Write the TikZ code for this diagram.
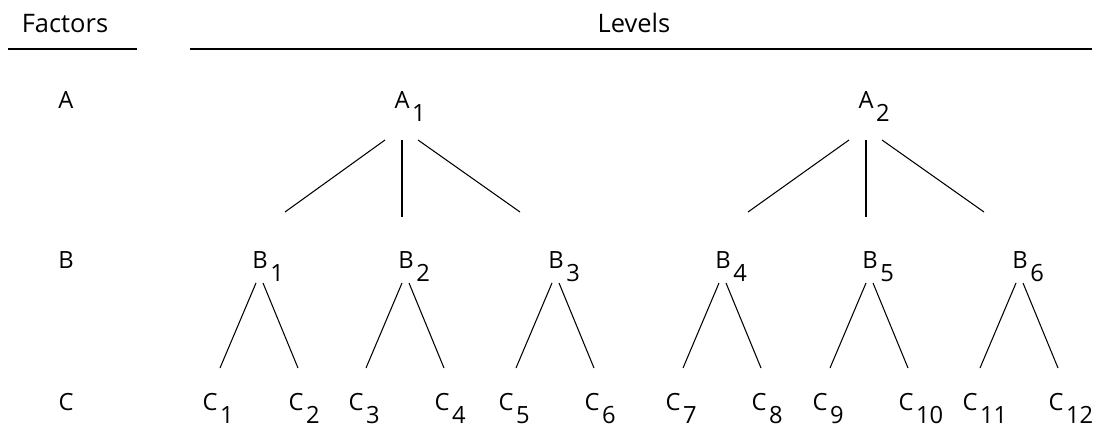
\documentclass[tikz,border=0pt]{standalone}
\usepackage{fontspec}
\setmainfont{Open Sans}
\usetikzlibrary{calc}

\newcommand{\lvl}[2]{#1\rlap{\kern1.5pt\raisebox{-7.5pt}{#2}}}

\begin{document}
\begin{tikzpicture}[x=0.02cm, y=-0.02cm,
    lvl/.style={anchor=base, inner sep=0pt, font=\fontsize{13.5}{16}\selectfont},
    head/.style={anchor=base, inner sep=0pt, font=\fontsize{14.5}{17}\selectfont},
    branch/.style={line width=0.6pt}]

    \useasboundingbox (0,0) rectangle (1101,436);

    % Headings
    \node[head] (fac) at (65,32) {Factors};
    \node[head] (lev) at (634,32) {Levels};
    \draw[branch] (8,49) -- (137,49);
    \draw[branch] (190,49) -- (1092,49);

    % Factor names
    \node[lvl] (fA) at (66,108) {A};
    \node[lvl] (fB) at (66,268) {B};
    \node[lvl] (fC) at (66,410) {C};

    % Levels of A
    \node[lvl] (A1) at (402,108) {\lvl{A}{1}};
    \node[lvl] (A2) at (866,108) {\lvl{A}{2}};

    % Levels of B, each with two levels of C
    \foreach \n/\x in {1/260, 2/406, 3/556, 4/723, 5/870, 6/1020} {
        \pgfmathtruncatemacro{\lft}{2*\n-1}
        \pgfmathtruncatemacro{\rgt}{2*\n}
        \node[lvl] (B\n) at (\x,268) {\lvl{B}{\n}};
        \node[lvl] (C\lft) at (\x-50,410) {\lvl{C}{\lft}};
        \node[lvl] (C\rgt) at (\x+36,410) {\lvl{C}{\rgt}};
        \draw[branch] ($(B\n.base)+(-4,15)$) -- ($(C\lft.base)+(10,-42)$);
        \draw[branch] ($(B\n.base)+(3,15)$) -- ($(C\rgt.base)+(2,-42)$);
    }

    % Branches from A to B
    \foreach \n/\bl/\bm/\br in {1/1/2/3, 2/4/5/6} {
        \draw[branch] ($(A\n.base)+(-17,32)$) -- ($(B\bl.base)+(25,-56)$);
        \draw[branch] ($(A\n.base)+(0,32)$) -- ($(B\bm.base)+(-4,-51)$);
        \draw[branch] ($(A\n.base)+(16,32)$) -- ($(B\br.base)+(-36,-56)$);
    }

\end{tikzpicture}
\end{document}
